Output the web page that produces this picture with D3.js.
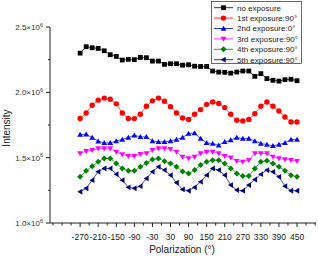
<!DOCTYPE html>
<html>
<head>
<meta charset="utf-8">
<script src="https://cdn.jsdelivr.net/npm/d3@7"></script>
<style>
  body { margin: 0; background: #fff; }
  svg { display: block; font-family: Arial, "Liberation Sans", sans-serif; }
</style>
</head>
<body>
<svg id="chart" width="318" height="257"></svg>
<script>
// polarization angle (deg)
var angles = [-270,-250,-230,-210,-190,-170,-150,-130,-110,-90,-70,-50,-30,-10,10,30,50,70,90,
              110,130,150,170,190,210,230,250,270,290,310,330,350,370,390,410,430,450];

// intensities, x10^6
var noExposure = [2.300,2.349,2.341,2.336,2.318,2.288,2.275,2.247,2.252,2.250,2.267,2.265,2.239,2.239,2.214,2.219,2.219,2.208,2.211,
                  2.200,2.198,2.198,2.163,2.155,2.153,2.147,2.155,2.163,2.163,2.122,2.143,2.105,2.092,2.086,2.097,2.100,2.089];
var exp1 = [1.800,1.842,1.901,1.940,1.956,1.947,1.912,1.842,1.800,1.799,1.832,1.893,1.935,1.956,1.932,1.890,1.842,1.804,1.792,
            1.832,1.868,1.908,1.926,1.914,1.883,1.832,1.786,1.781,1.792,1.837,1.893,1.926,1.893,1.857,1.811,1.773,1.773];
var exp2 = [1.677,1.679,1.654,1.626,1.613,1.613,1.628,1.639,1.654,1.672,1.659,1.659,1.628,1.621,1.621,1.628,1.639,1.654,1.685,
            1.689,1.646,1.613,1.608,1.595,1.621,1.634,1.654,1.646,1.646,1.628,1.608,1.601,1.590,1.601,1.613,1.639,1.639];
var exp3 = [1.532,1.550,1.557,1.570,1.570,1.570,1.544,1.524,1.511,1.511,1.527,1.532,1.557,1.570,1.570,1.565,1.544,1.506,1.494,
            1.506,1.532,1.544,1.544,1.532,1.511,1.500,1.473,1.468,1.481,1.532,1.532,1.532,1.506,1.494,1.486,1.481,1.473];
var exp4 = [1.353,1.399,1.435,1.468,1.494,1.494,1.456,1.418,1.399,1.399,1.430,1.460,1.486,1.494,1.473,1.456,1.430,1.395,1.379,
            1.405,1.443,1.468,1.481,1.481,1.456,1.418,1.379,1.359,1.359,1.418,1.468,1.476,1.456,1.430,1.399,1.366,1.353];
var exp5 = [1.239,1.265,1.328,1.392,1.418,1.418,1.374,1.328,1.273,1.265,1.282,1.341,1.392,1.430,1.405,1.366,1.308,1.257,1.247,
            1.273,1.315,1.366,1.418,1.405,1.366,1.290,1.252,1.247,1.290,1.333,1.374,1.405,1.392,1.353,1.282,1.247,1.247];

var seriesNames = ["no exposure","1st exposure:90°","2nd exposure:0°","3rd exposure:90°","4th exposure:90°","5th exposure:90°"];
var seriesValues = [noExposure, exp1, exp2, exp3, exp4, exp5];
var seriesColors = ["#000000","#ff0000","#0000ff","#ff00ff","#008000","#000080"];
var seriesSymbols = ["square","circle","triUp","triDown","diamond","triLeft"];

var xTickLabels = [-270,-210,-150,-90,-30,30,90,150,210,270,330,390,450];
var xMinorTicks = [-360,-330,-300,-240,-180,-120,-60,0,60,120,180,240,300,360,420,480,510];
var yTicks = [1.0, 1.5, 2.0, 2.5];
var yMinor = [1.25, 1.75, 2.25];

var svg = d3.select("#chart");
var x = d3.scaleLinear().domain([-370, 513]).range([50, 316]);
var y = d3.scaleLinear().domain([1.0, 2.5]).range([223, 27]);

function symbolPath(kind, cx, cy) {
  var s = 2.4;
  if (kind === "square") return "M"+(cx-s)+","+(cy-s)+"h"+(2*s)+"v"+(2*s)+"h"+(-2*s)+"Z";
  if (kind === "triUp") return "M"+cx+","+(cy-2.8)+"L"+(cx+2.9)+","+(cy+2.2)+"L"+(cx-2.9)+","+(cy+2.2)+"Z";
  if (kind === "triDown") return "M"+cx+","+(cy+2.8)+"L"+(cx+2.9)+","+(cy-2.2)+"L"+(cx-2.9)+","+(cy-2.2)+"Z";
  if (kind === "triLeft") return "M"+(cx-2.8)+","+cy+"L"+(cx+2.2)+","+(cy-2.9)+"L"+(cx+2.2)+","+(cy+2.9)+"Z";
  if (kind === "diamond") return "M"+cx+","+(cy-3)+"L"+(cx+3)+","+cy+"L"+cx+","+(cy+3)+"L"+(cx-3)+","+cy+"Z";
  return null;
}

function drawSymbol(g, kind, cx, cy, color) {
  if (kind === "circle") {
    g.append("circle").attr("cx", cx).attr("cy", cy).attr("r", 2.7).attr("fill", color);
  } else {
    g.append("path").attr("d", symbolPath(kind, cx, cy)).attr("fill", color);
  }
}

// series
var line = d3.line().x(function(d){ return x(d[0]); }).y(function(d){ return y(d[1]); });
seriesValues.forEach(function(vals, i) {
  var pts = angles.map(function(a, j){ return [a, vals[j]]; });
  var g = svg.append("g");
  g.append("path").attr("d", line(pts)).attr("fill", "none")
    .attr("stroke", seriesColors[i]).attr("stroke-width", 0.7);
  pts.forEach(function(p){ drawSymbol(g, seriesSymbols[i], x(p[0]), y(p[1]), seriesColors[i]); });
});

// axes
var axisColor = "#222";
var ax = svg.append("g").attr("stroke", axisColor).attr("stroke-width", 1).attr("fill", "none");
ax.append("line").attr("x1", 50).attr("x2", 50).attr("y1", y(2.5)).attr("y2", y(1.0));
ax.append("line").attr("x1", 50).attr("x2", 316).attr("y1", y(1.0)).attr("y2", y(1.0));
yTicks.forEach(function(t){ ax.append("line").attr("x1", 46).attr("x2", 50).attr("y1", y(t)).attr("y2", y(t)); });
yMinor.forEach(function(t){ ax.append("line").attr("x1", 48).attr("x2", 50).attr("y1", y(t)).attr("y2", y(t)); });
xTickLabels.forEach(function(t){ ax.append("line").attr("x1", x(t)).attr("x2", x(t)).attr("y1", 223).attr("y2", 227); });
xMinorTicks.forEach(function(t){ ax.append("line").attr("x1", x(t)).attr("x2", x(t)).attr("y1", 223).attr("y2", 225.5); });

svg.selectAll(".xl").data(xTickLabels).enter().append("text")
  .attr("x", function(d){ return x(d); }).attr("y", 240)
  .attr("text-anchor", "middle").attr("font-size", 8.5).attr("fill", "#222")
  .text(function(d){ return d; });

yTicks.forEach(function(t){
  var tx = svg.append("text").attr("x", 43).attr("y", y(t) + 3)
    .attr("text-anchor", "end").attr("font-size", 8).attr("fill", "#333");
  tx.append("tspan").text(t.toFixed(1) + "×10");
  tx.append("tspan").attr("dy", -3.5).attr("font-size", 5.5).text("6");
});

svg.append("text").attr("x", 182).attr("y", 253).attr("text-anchor", "middle")
  .attr("font-size", 10).attr("fill", "#222").text("Polarization (°)");
svg.append("text").attr("transform", "translate(10,128) rotate(-90)")
  .attr("text-anchor", "middle").attr("font-size", 10).attr("fill", "#222").text("Intensity");

// legend
var lg = svg.append("g");
lg.append("rect").attr("x", 211.5).attr("y", 1.5).attr("width", 90).attr("height", 62)
  .attr("fill", "#fff").attr("stroke", "#444").attr("stroke-width", 0.8);
seriesNames.forEach(function(name, i){
  var ry = 7.7 + i * 10.4;
  lg.append("line").attr("x1", 214).attr("x2", 233).attr("y1", ry).attr("y2", ry)
    .attr("stroke", seriesColors[i]).attr("stroke-width", 0.8);
  drawSymbol(lg, seriesSymbols[i], 223.5, ry, seriesColors[i]);
  lg.append("text").attr("x", 237).attr("y", ry + 2.9).attr("font-size", 8).attr("fill", "#222").text(name);
});
</script>
</body>
</html>
